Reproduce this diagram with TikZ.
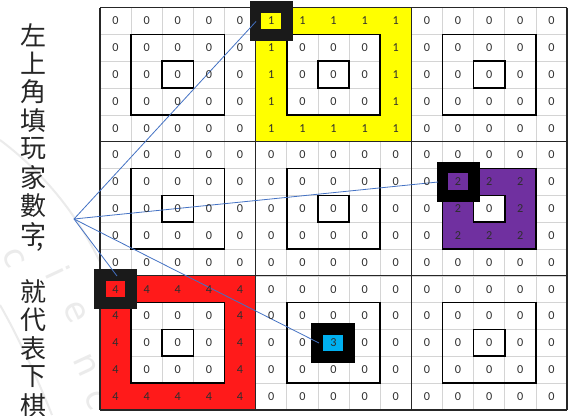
\documentclass[tikz,border=0pt]{standalone}
\usepackage{fontspec}
\newfontfamily\cjkfont{Noto Sans CJK TC}
\newfontfamily\numfont{Carlito}
\newfontfamily\wmfont{DejaVu Sans}
\usetikzlibrary{calc}
\definecolor{ylw}{HTML}{FFFF00}
\definecolor{redf}{HTML}{FF1A1A}
\definecolor{purp}{HTML}{7030A0}
\definecolor{cyanf}{HTML}{00B0F0}
\definecolor{conblue}{HTML}{4472C4}
\definecolor{hldark}{HTML}{1A1A1A}
\tikzset{
  gridframe/.style={shift={(100pt,-7.5pt)}, x=31.13pt, y=-26.83pt},
  gridline/.style={draw=black!17, line width=0.6pt},
  blockline/.style={draw=black!85, line width=1.3pt},
  ringline/.style={draw=black, line width=1.6pt},
  conn/.style={draw=conblue, line width=0.8pt},
  hlbox/.style={fill=hldark, minimum width=43pt, minimum height=40pt, inner sep=0pt, draw=none},
  hlin/.style={minimum width=19.5pt, minimum height=16pt, inner sep=0pt, draw=none},
  digit/.style={font=\numfont\fontsize{12.2}{13}\selectfont, text=black!82, inner sep=0pt},
  cjk/.style={font=\cjkfont\fontsize{26}{26}\selectfont, text=black!85, inner sep=0pt},
  wm/.style={font=\wmfont\fontsize{34}{34}\selectfont, text=black!8, inner sep=0pt},
  wmarc/.style={draw=black!8, line width=2pt}
}
\begin{document}
\begin{tikzpicture}[x=1pt, y=-1pt]
\useasboundingbox (0,0) rectangle (569,415);
\fill[white] (0,0) rectangle (569,415);

% faint watermark
\draw[wmarc] (0,140) .. controls (40,170) and (75,210) .. (100,262);
\draw[wmarc] (0,305) .. controls (20,340) and (38,380) .. (52,415);
\node[wm, rotate=-65] (w1) at (14,258) {c};
\node[wm, rotate=-65] (w2) at (58,272) {i};
\node[wm, rotate=-65] (w3) at (75,312) {e};
\node[wm, rotate=-65] (w4) at (86,365) {n};
\node[wm, rotate=-65] (w5) at (96,400) {c};

% vertical Chinese text
\foreach \ch [count=\k from 0] in {左,上,角,填,玩,家,數,字} {
  \node[cjk] (t\k) at (33,{35+28.5*\k}) {\ch};
}
\node[cjk] (tcomma) at (40,247) {,};
\foreach \ch [count=\k from 9] in {就,代,表,下,棋} {
  \node[cjk] (t\k) at (33,{35+28.5*\k}) {\ch};
}

\begin{scope}[gridframe]
  % thin grid
  \foreach \i in {0,...,15} {
    \draw[gridline] (\i,0) -- (\i,15);
    \draw[gridline] (0,\i) -- (15,\i);
  }
  % coloured regions
  \fill[ylw, even odd rule] (5,0) rectangle (10,5) (6,1) rectangle (9,4);
  \fill[redf, even odd rule] (0,10) rectangle (5,15) (1,11) rectangle (4,14);
  \fill[purp, even odd rule] (11,6) rectangle (14,9) (12,7) rectangle (13,8);
  % block lines
  \foreach \k in {0,5,10,15} {
    \draw[blockline] (\k,0) -- (\k,15);
    \draw[blockline] (0,\k) -- (15,\k);
  }
  % inner squares
  \foreach \bi in {0,1,2} {
    \foreach \bj in {0,1,2} {
      \draw[ringline] ({5*\bj+1},{5*\bi+1}) rectangle ({5*\bj+4},{5*\bi+4});
      \draw[ringline] ({5*\bj+2},{5*\bi+2}) rectangle ({5*\bj+3},{5*\bi+3});
    }
  }
  % highlight boxes
  \node[hlbox] (hy) at (5.5,0.5) {};
  \node[hlin, fill=ylw] (hyi) at (5.5,0.5) {};
  \node[hlbox, fill=black] (hp) at (11.5,6.5) {};
  \node[hlin, fill=purp, minimum height=17pt, minimum width=20pt] (hpi) at (11.5,6.5) {};
  \node[hlbox] (hr) at (0.5,10.5) {};
  \node[hlin, fill=redf] (hri) at (0.5,10.5) {};
  \node[hlbox, fill=black, minimum width=44pt] (hc) at (7.5,12.5) {};
  \node[hlin, fill=cyanf, minimum width=20pt, minimum height=15.5pt] (hci) at (7.5,12.5) {};
\end{scope}

% connectors
\coordinate (src) at (74,219);
\coordinate (ey) at (256,21.5);
\coordinate (ep) at (438,182);
\coordinate (er) at (117,276);
\coordinate (ec) at (319,343);
\draw[conn] (src) -- (ey);
\draw[conn] (src) -- (ep);
\draw[conn] (src) -- (er);
\draw[conn] (src) -- (ec);

% digits
\begin{scope}[gridframe]
  \foreach \r in {0,...,14} {
    \foreach \c in {0,...,14} {
      \pgfmathtruncatemacro\v{
        (\r<=4)*(\c>=5)*(\c<=9)*(1-(\r>=1)*(\r<=3)*(\c>=6)*(\c<=8))
        + 2*(\r>=6)*(\r<=8)*(\c>=11)*(\c<=13)*(1-(\r==7)*(\c==12))
        + 4*(\r>=10)*(\c<=4)*(1-(\r>=11)*(\r<=13)*(\c>=1)*(\c<=3))
        + 3*(\r==12)*(\c==7)}
      \node[digit] (d-\r-\c) at ({\c+0.5},{\r+0.5}) {\v};
    }
  }
\end{scope}
\end{tikzpicture}
\end{document}
